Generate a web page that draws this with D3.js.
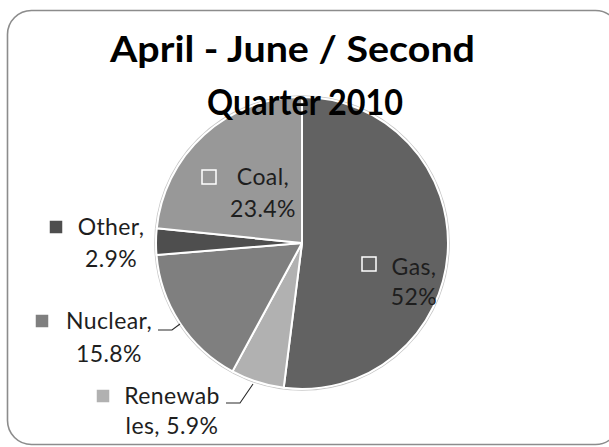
<!DOCTYPE html>
<html>
<head>
<meta charset="utf-8">
<script src="https://cdn.jsdelivr.net/npm/d3@7"></script>
<style>
  html, body { margin: 0; padding: 0; background: #ffffff; }
  svg { display: block; }
</style>
</head>
<body>
<svg id="chart" width="609" height="447"></svg>
<script>
// Electricity generation mix, April - June 2010
const titleLines = ["April - June / Second", "Quarter 2010"];
const categories = ["Gas", "Renewables", "Nuclear", "Other", "Coal"];
const shares = [52, 5.9, 15.8, 2.9, 23.4];
const sliceColors = ["#626262", "#b1b1b1", "#7f7f7f", "#4e4e4e", "#989898"];

// Where each data label sits (centre x, first baseline), where its key square goes,
// how the label text is broken onto two lines, and an optional leader line.
const labelLayout = {
  Gas:        { cx: 414, y: 275, key: [362, 257], split: 4, gap: 30 },
  Renewables: { cx: 172, y: 404, key: [96, 389], split: 7, gap: 30,
                leader: [[226, 403], [240, 403], [253, 384]] },
  Nuclear:    { cx: 109, y: 329, key: [35, 314], split: 8, gap: 33,
                leader: [[158, 330], [172, 330], [180, 324]] },
  Other:      { cx: 111, y: 235, key: [49, 220], split: 6, gap: 32 },
  Coal:       { cx: 263, y: 185, key: [202, 170], split: 5, gap: 32 }
};

const W = 609, H = 447;
const svg = d3.select("#chart");

// chart frame with rounded corners
svg.append("rect")
  .attr("x", 7.5).attr("y", 10.5)
  .attr("width", 612).attr("height", 434)
  .attr("rx", 24).attr("ry", 24)
  .attr("fill", "#ffffff")
  .attr("stroke", "#8c8c8c")
  .attr("stroke-width", 1.6);

const cx = 302, cy = 243, radius = 146;

const pie = d3.pie().sort(null).value(d => d.value)
  .startAngle(0).endAngle(2 * Math.PI);
const data = categories.map((c, i) => ({ name: c, value: shares[i], color: sliceColors[i] }));
const arcs = pie(data);
const arc = d3.arc().innerRadius(0).outerRadius(radius);

const g = svg.append("g").attr("transform", `translate(${cx},${cy})`);

// faint shadow ring round the pie
g.append("circle").attr("r", radius + 1.2)
  .attr("fill", "none").attr("stroke", "#c8c8c8").attr("stroke-width", 1.2);

g.selectAll("path.slice")
  .data(arcs)
  .join("path")
  .attr("class", "slice")
  .attr("d", arc)
  .attr("fill", d => d.data.color)
  .attr("stroke", "#ffffff")
  .attr("stroke-width", 2)
  .attr("stroke-linejoin", "round");

// leader lines
const line = d3.line();
arcs.forEach(a => {
  const L = labelLayout[a.data.name];
  if (L.leader) {
    svg.append("path")
      .attr("d", line(L.leader))
      .attr("fill", "none")
      .attr("stroke", "#2a2a2a")
      .attr("stroke-width", 1.1);
  }
});

const fmtPct = v => (Number.isInteger(v) ? d3.format("d")(v) : d3.format(".1f")(v)) + "%";

// data labels
arcs.forEach(a => {
  const L = labelLayout[a.data.name];
  const full = `${a.data.name}, ${fmtPct(a.data.value)}`;
  const lines = [full.slice(0, L.split).trim(), full.slice(L.split).trim()];
  const lg = svg.append("g");
  lg.append("rect")
    .attr("x", L.key[0]).attr("y", L.key[1])
    .attr("width", 14).attr("height", 14)
    .attr("fill", a.data.color)
    .attr("stroke", "#ffffff").attr("stroke-width", 1.5);
  const t = lg.append("text")
    .attr("font-family", "Lato, 'Open Sans', sans-serif")
    .attr("font-size", 23)
    .attr("letter-spacing", 0.4)
    .attr("fill", "#1e1e1e")
    .attr("text-anchor", "middle");
  lines.forEach((s, i) => {
    t.append("tspan").attr("x", L.cx).attr("y", L.y + i * L.gap).text(s);
  });
});

// title, drawn over the pie
const titleSpec = [
  { x: 110, y: 62, len: 365 },
  { x: 207, y: 115, len: 196 }
];
titleLines.forEach((s, i) => {
  svg.append("text")
    .attr("x", titleSpec[i].x).attr("y", titleSpec[i].y)
    .attr("font-family", "Lato, 'Open Sans', sans-serif")
    .attr("font-weight", "bold")
    .attr("font-size", 37)
    .attr("fill", "#000000")
    .attr("textLength", titleSpec[i].len)
    .attr("lengthAdjust", "spacingAndGlyphs")
    .text(s);
});
</script>
</body>
</html>
